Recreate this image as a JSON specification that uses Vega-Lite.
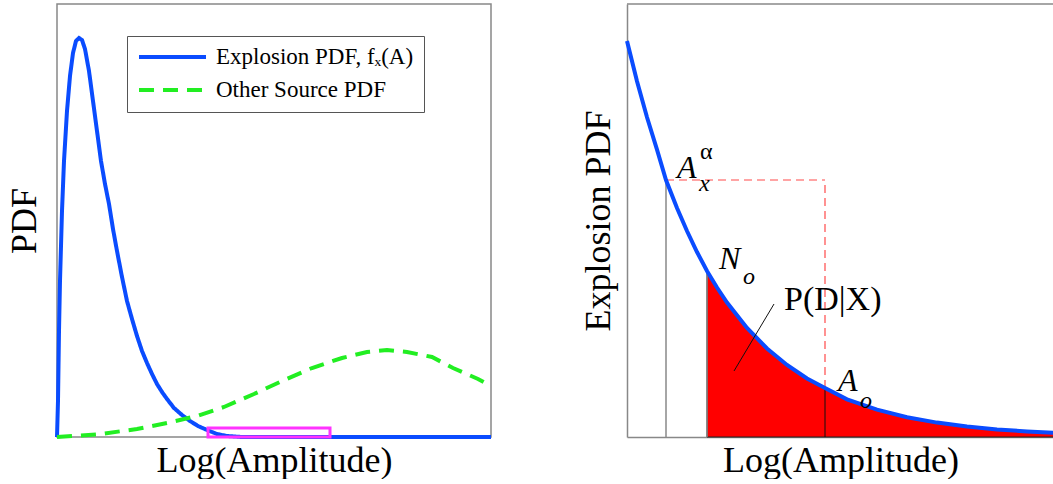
{
  "$schema": "https://vega.github.io/schema/vega-lite/v6.json",
  "background": "white",
  "padding": {"left": 5, "top": 3, "right": 0, "bottom": 0},
  "spacing": 80,
  "config": {
    "font": "Liberation Serif",
    "view": {"stroke": null},
    "axis": {
      "titleFont": "Liberation Serif",
      "titleFontSize": 36,
      "titleFontWeight": "normal",
      "titleColor": "black",
      "labels": false,
      "ticks": false,
      "grid": false,
      "domain": false
    },
    "legend": {
      "orient": "none",
      "legendX": 70,
      "legendY": 32,
      "symbolType": "stroke",
      "symbolSize": 4489,
      "symbolStrokeWidth": 4,
      "clipHeight": 22,
      "labelFont": "Liberation Serif",
      "labelFontSize": 23,
      "labelColor": "black",
      "labelLimit": 0,
      "labelOffset": 8,
      "padding": 10,
      "rowPadding": 10,
      "strokeColor": "#555",
      "fillColor": "white"
    }
  },
  "datasets": {
    "left": [
      {"x": 0, "y": 0, "series": "Explosion PDF, fₓ(A)"},
      {"x": 1, "y": 36, "series": "Explosion PDF, fₓ(A)"},
      {"x": 2, "y": 106, "series": "Explosion PDF, fₓ(A)"},
      {"x": 3, "y": 156, "series": "Explosion PDF, fₓ(A)"},
      {"x": 5, "y": 226, "series": "Explosion PDF, fₓ(A)"},
      {"x": 7, "y": 276, "series": "Explosion PDF, fₓ(A)"},
      {"x": 10, "y": 326, "series": "Explosion PDF, fₓ(A)"},
      {"x": 13, "y": 361, "series": "Explosion PDF, fₓ(A)"},
      {"x": 16, "y": 384, "series": "Explosion PDF, fₓ(A)"},
      {"x": 19, "y": 396, "series": "Explosion PDF, fₓ(A)"},
      {"x": 22, "y": 399, "series": "Explosion PDF, fₓ(A)"},
      {"x": 25, "y": 397, "series": "Explosion PDF, fₓ(A)"},
      {"x": 28, "y": 388, "series": "Explosion PDF, fₓ(A)"},
      {"x": 32, "y": 366, "series": "Explosion PDF, fₓ(A)"},
      {"x": 36, "y": 336, "series": "Explosion PDF, fₓ(A)"},
      {"x": 40, "y": 306, "series": "Explosion PDF, fₓ(A)"},
      {"x": 44, "y": 276, "series": "Explosion PDF, fₓ(A)"},
      {"x": 48, "y": 253, "series": "Explosion PDF, fₓ(A)"},
      {"x": 52, "y": 233, "series": "Explosion PDF, fₓ(A)"},
      {"x": 56, "y": 208, "series": "Explosion PDF, fₓ(A)"},
      {"x": 60, "y": 186, "series": "Explosion PDF, fₓ(A)"},
      {"x": 65, "y": 160, "series": "Explosion PDF, fₓ(A)"},
      {"x": 70, "y": 136, "series": "Explosion PDF, fₓ(A)"},
      {"x": 75, "y": 118, "series": "Explosion PDF, fₓ(A)"},
      {"x": 80, "y": 101, "series": "Explosion PDF, fₓ(A)"},
      {"x": 85, "y": 86, "series": "Explosion PDF, fₓ(A)"},
      {"x": 90, "y": 74, "series": "Explosion PDF, fₓ(A)"},
      {"x": 95, "y": 63, "series": "Explosion PDF, fₓ(A)"},
      {"x": 100, "y": 53, "series": "Explosion PDF, fₓ(A)"},
      {"x": 105, "y": 45, "series": "Explosion PDF, fₓ(A)"},
      {"x": 110, "y": 38, "series": "Explosion PDF, fₓ(A)"},
      {"x": 117, "y": 29, "series": "Explosion PDF, fₓ(A)"},
      {"x": 125, "y": 22, "series": "Explosion PDF, fₓ(A)"},
      {"x": 133, "y": 16, "series": "Explosion PDF, fₓ(A)"},
      {"x": 141, "y": 11, "series": "Explosion PDF, fₓ(A)"},
      {"x": 150, "y": 7, "series": "Explosion PDF, fₓ(A)"},
      {"x": 160, "y": 3, "series": "Explosion PDF, fₓ(A)"},
      {"x": 170, "y": 1, "series": "Explosion PDF, fₓ(A)"},
      {"x": 185, "y": 0, "series": "Explosion PDF, fₓ(A)"},
      {"x": 434, "y": 0, "series": "Explosion PDF, fₓ(A)"},
      {"x": 0, "y": 0, "series": "Other Source PDF"},
      {"x": 40, "y": 2.5, "series": "Other Source PDF"},
      {"x": 80, "y": 8, "series": "Other Source PDF"},
      {"x": 110, "y": 14, "series": "Other Source PDF"},
      {"x": 140, "y": 21, "series": "Other Source PDF"},
      {"x": 167, "y": 30, "series": "Other Source PDF"},
      {"x": 197, "y": 43, "series": "Other Source PDF"},
      {"x": 225, "y": 56, "series": "Other Source PDF"},
      {"x": 255, "y": 69, "series": "Other Source PDF"},
      {"x": 285, "y": 79, "series": "Other Source PDF"},
      {"x": 310, "y": 85, "series": "Other Source PDF"},
      {"x": 330, "y": 87, "series": "Other Source PDF"},
      {"x": 350, "y": 85, "series": "Other Source PDF"},
      {"x": 375, "y": 80, "series": "Other Source PDF"},
      {"x": 396, "y": 69, "series": "Other Source PDF"},
      {"x": 421, "y": 58, "series": "Other Source PDF"},
      {"x": 434, "y": 51, "series": "Other Source PDF"}
    ],
    "box": [{"x": 151, "x2": 273, "y": 0, "y2": 9}],
    "right": [
      {"x": 0, "y": 396},
      {"x": 10, "y": 355.8},
      {"x": 20, "y": 319.7},
      {"x": 30, "y": 287.3},
      {"x": 39, "y": 257},
      {"x": 50, "y": 229},
      {"x": 60, "y": 206},
      {"x": 70, "y": 185},
      {"x": 80, "y": 166},
      {"x": 90, "y": 149.5},
      {"x": 100, "y": 134.5},
      {"x": 120, "y": 109},
      {"x": 140, "y": 88.5},
      {"x": 160, "y": 72},
      {"x": 180, "y": 58.5},
      {"x": 198, "y": 49},
      {"x": 220, "y": 37.6},
      {"x": 250, "y": 27.3},
      {"x": 280, "y": 19.8},
      {"x": 310, "y": 14.4},
      {"x": 340, "y": 10.4},
      {"x": 370, "y": 7.6},
      {"x": 400, "y": 5.5},
      {"x": 427, "y": 4.1}
    ],
    "bigItalic": [
      {"x": 50, "y": 259, "t": "A"},
      {"x": 92, "y": 168, "t": "N"},
      {"x": 211, "y": 46, "t": "A"}
    ],
    "smallItalic": [
      {"x": 72, "y": 246, "t": "x"},
      {"x": 116, "y": 153, "t": "o"},
      {"x": 233, "y": 29, "t": "o"}
    ],
    "bigUpright": [{"x": 157, "y": 127, "t": "P(D|X)"}],
    "smallUpright": [{"x": 73, "y": 278, "t": "α"}]
  },
  "hconcat": [
    {
      "width": 434,
      "height": 433,
      "view": {"stroke": "#888", "strokeWidth": 1.5},
      "layer": [
        {
          "data": {"name": "left"},
          "mark": {"type": "line", "strokeWidth": 4},
          "encoding": {
            "x": {"field": "x", "type": "quantitative", "scale": {"domain": [0, 434], "nice": false, "zero": false}, "axis": {"title": "Log(Amplitude)", "titlePadding": 6}},
            "y": {"field": "y", "type": "quantitative", "scale": {"domain": [0, 433], "nice": false, "zero": false}, "axis": {"title": "PDF", "titlePadding": 14}},
            "color": {"field": "series", "type": "nominal", "scale": {"domain": ["Explosion PDF, fₓ(A)", "Other Source PDF"], "range": ["#0a4cff", "#22ee22"]}, "legend": {"title": null}},
            "strokeDash": {"field": "series", "type": "nominal", "scale": {"domain": ["Explosion PDF, fₓ(A)", "Other Source PDF"], "range": [[1, 0], [15, 9]]}, "legend": {"title": null}},
            "order": {"field": "x", "type": "quantitative"}
          }
        },
        {
          "data": {"name": "box"},
          "mark": {"type": "rect", "fill": null, "fillOpacity": 0, "stroke": "#ff33ff", "strokeWidth": 3},
          "encoding": {
            "x": {"field": "x", "type": "quantitative"},
            "x2": {"field": "x2"},
            "y": {"field": "y", "type": "quantitative"},
            "y2": {"field": "y2"}
          }
        }
      ]
    },
    {
      "width": 427,
      "height": 433,
      "layer": [
        {
          "data": {"name": "right"},
          "transform": [{"filter": "datum.x >= 80"}],
          "mark": {"type": "area", "color": "#ff0000", "stroke": "#222", "strokeWidth": 1},
          "encoding": {
            "x": {"field": "x", "type": "quantitative", "scale": {"domain": [0, 427], "nice": false, "zero": false}, "axis": {"title": "Log(Amplitude)", "titlePadding": 6, "domain": true, "domainColor": "#888", "domainWidth": 1.5}},
            "y": {"field": "y", "type": "quantitative", "scale": {"domain": [0, 433], "nice": false, "zero": false}, "axis": {"title": "Explosion PDF", "titlePadding": 10, "domain": true, "domainColor": "#888", "domainWidth": 1.5}}
          }
        },
        {
          "data": {"values": [{}]},
          "mark": {"type": "rule", "color": "#888", "strokeWidth": 1.5},
          "encoding": {"x": {"datum": 0}, "x2": {"datum": 427}, "y": {"datum": 433}}
        },
        {
          "data": {"values": [{}]},
          "mark": {"type": "rule", "color": "#888", "strokeWidth": 1.5},
          "encoding": {"x": {"datum": 39}, "y": {"datum": 0}, "y2": {"datum": 257}}
        },
        {
          "data": {"values": [{}]},
          "mark": {"type": "rule", "color": "#888", "strokeWidth": 1.5},
          "encoding": {"x": {"datum": 80}, "y": {"datum": 0}, "y2": {"datum": 166}}
        },
        {
          "data": {"values": [{}]},
          "mark": {"type": "rule", "color": "#111", "strokeWidth": 1},
          "encoding": {"x": {"datum": 198}, "y": {"datum": 0}, "y2": {"datum": 49}}
        },
        {
          "data": {"values": [{}]},
          "mark": {"type": "rule", "color": "#ff4a4a", "strokeWidth": 1.2, "strokeDash": [8, 5]},
          "encoding": {"x": {"datum": 39}, "x2": {"datum": 198}, "y": {"datum": 257}}
        },
        {
          "data": {"values": [{}]},
          "mark": {"type": "rule", "color": "#ff4a4a", "strokeWidth": 1.2, "strokeDash": [8, 5]},
          "encoding": {"x": {"datum": 198}, "y": {"datum": 49}, "y2": {"datum": 257}}
        },
        {
          "data": {"name": "right"},
          "mark": {"type": "line", "color": "#0a4cff", "strokeWidth": 4},
          "encoding": {
            "x": {"field": "x", "type": "quantitative"},
            "y": {"field": "y", "type": "quantitative"}
          }
        },
        {
          "data": {"values": [{}]},
          "mark": {"type": "rule", "color": "#111", "strokeWidth": 1},
          "encoding": {"x": {"datum": 107}, "x2": {"datum": 147}, "y": {"datum": 66}, "y2": {"datum": 133}}
        },
        {
          "data": {"name": "bigItalic"},
          "mark": {"type": "text", "font": "Liberation Serif", "fontStyle": "italic", "fontSize": 32, "align": "left", "baseline": "alphabetic", "color": "black"},
          "encoding": {"x": {"field": "x", "type": "quantitative"}, "y": {"field": "y", "type": "quantitative"}, "text": {"field": "t"}}
        },
        {
          "data": {"name": "smallItalic"},
          "mark": {"type": "text", "font": "Liberation Serif", "fontStyle": "italic", "fontSize": 24, "align": "left", "baseline": "alphabetic", "color": "black"},
          "encoding": {"x": {"field": "x", "type": "quantitative"}, "y": {"field": "y", "type": "quantitative"}, "text": {"field": "t"}}
        },
        {
          "data": {"name": "bigUpright"},
          "mark": {"type": "text", "font": "Liberation Serif", "fontSize": 34, "align": "left", "baseline": "alphabetic", "color": "black"},
          "encoding": {"x": {"field": "x", "type": "quantitative"}, "y": {"field": "y", "type": "quantitative"}, "text": {"field": "t"}}
        },
        {
          "data": {"name": "smallUpright"},
          "mark": {"type": "text", "font": "Liberation Serif", "fontSize": 24, "align": "left", "baseline": "alphabetic", "color": "black"},
          "encoding": {"x": {"field": "x", "type": "quantitative"}, "y": {"field": "y", "type": "quantitative"}, "text": {"field": "t"}}
        }
      ]
    }
  ]
}
